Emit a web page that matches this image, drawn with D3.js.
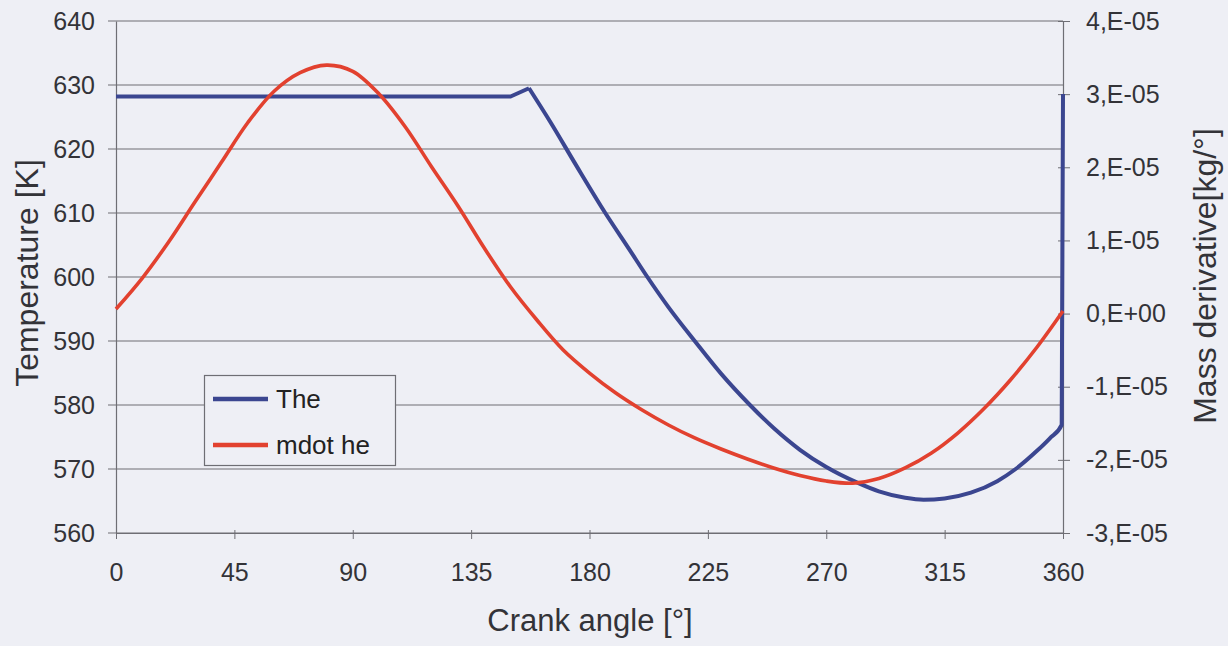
<!DOCTYPE html>
<html><head><meta charset="utf-8">
<script src="https://cdn.jsdelivr.net/npm/d3@7"></script>
<style>
html,body{margin:0;padding:0;background:#eeeff5;}
svg{display:block;font-family:"Liberation Sans",Arial,sans-serif;}
</style></head>
<body><svg id="c" width="1228" height="646"></svg>
<script>
// ---- data ----
const theAngles = [0, 50, 100, 150, 157, 165, 175, 186, 195, 202, 210, 220, 230, 241, 250, 260, 270, 281.6, 290, 300, 307, 315, 325, 335, 342, 350, 355, 359.5, 360];
const theValues = [628.2, 628.2, 628.2, 628.2, 629.5, 624.3, 617.4, 610, 604.4, 600, 595.3, 590, 584.9, 580, 576.4, 573, 570.3, 567.9, 566.5, 565.5, 565.2, 565.4, 566.3, 568.1, 570, 572.8, 574.8, 576.9, 628.6];
const mdotAngles = [0, 10, 20, 30, 40, 50, 60, 70, 80, 90, 100, 110, 120, 130, 140, 150, 160, 170, 180, 190, 200, 210, 220, 230, 240, 250, 260, 270, 280, 290, 300, 310, 320, 330, 340, 350, 360];
const mdotValues = [0.062e-5, 0.486e-5, 0.979e-5, 1.525e-5, 2.064e-5, 2.605e-5, 3.036e-5, 3.293e-5, 3.397e-5, 3.312e-5, 3.002e-5, 2.551e-5, 2.004e-5, 1.471e-5, 0.896e-5, 0.363e-5, -0.088e-5, -0.498e-5, -0.813e-5, -1.086e-5, -1.318e-5, -1.523e-5, -1.701e-5, -1.852e-5, -1.988e-5, -2.111e-5, -2.214e-5, -2.289e-5, -2.319e-5, -2.255e-5, -2.111e-5, -1.906e-5, -1.633e-5, -1.298e-5, -0.908e-5, -0.464e-5, 0.035e-5];
const xTicks = [0, 45, 90, 135, 180, 225, 270, 315, 360];
const leftTicks = [560, 570, 580, 590, 600, 610, 620, 630, 640];
const rightTicks = [-3e-5, -2e-5, -1e-5, 0, 1e-5, 2e-5, 3e-5, 4e-5];
const rightTickLabels = ["-3,E-05", "-2,E-05", "-1,E-05", "0,E+00", "1,E-05", "2,E-05", "3,E-05", "4,E-05"];
const seriesNames = ["The", "mdot he"];

// ---- layout ----
const L = 116, R = 1063, T = 21, B = 533;
const FONT = "Liberation Sans, Arial, sans-serif";
const svg = d3.select("#c");
const x = d3.scaleLinear().domain([0, 360]).range([L, R]);
const yL = d3.scaleLinear().domain([560, 640]).range([B, T]);
const yR = d3.scaleLinear().domain([-3e-5, 4e-5]).range([B, T]);
const gridCol = "#6e6e74", txtCol = "#333338";
const blue = "#3b4690", red = "#e2412f";

// gridlines
svg.append("g").selectAll("line").data(leftTicks).join("line")
  .attr("x1", L - 8).attr("x2", R).attr("y1", d => yL(d)).attr("y2", d => yL(d))
  .attr("stroke", gridCol).attr("stroke-width", 1.2);

// left axis
const gl = svg.append("g").attr("transform", `translate(${L},0)`)
  .call(d3.axisLeft(yL).tickValues(leftTicks).tickSize(0).tickPadding(21).tickFormat(d3.format("d")));
gl.select(".domain").attr("stroke", gridCol).attr("stroke-width", 1.2);
gl.selectAll("text").attr("font-size", 25).attr("fill", txtCol).attr("font-family", FONT);

// right axis
const gr = svg.append("g").attr("transform", `translate(${R},0)`)
  .call(d3.axisRight(yR).tickValues(rightTicks).tickSizeInner(6).tickSizeOuter(0).tickPadding(18)
    .tickFormat((d, i) => rightTickLabels[i]));
gr.select(".domain").attr("stroke", gridCol).attr("stroke-width", 1.2);
gr.selectAll(".tick line").attr("stroke", gridCol).attr("x1", -5).attr("x2", 7);
gr.selectAll("text").attr("x", 23).attr("font-size", 25).attr("fill", txtCol).attr("font-family", FONT);

// bottom axis
const gb = svg.append("g").attr("transform", `translate(0,${B})`)
  .call(d3.axisBottom(x).tickValues(xTicks).tickSizeInner(6).tickSizeOuter(0).tickPadding(24).tickFormat(d3.format("d")));
gb.select(".domain").attr("stroke", gridCol).attr("stroke-width", 1.2);
gb.selectAll(".tick line").attr("stroke", gridCol).attr("y1", -3).attr("y2", 6);
gb.selectAll("text").attr("font-size", 25).attr("fill", txtCol).attr("font-family", FONT);

// series
const theData = theAngles.map((a, i) => [a, theValues[i]]);
const mdotData = mdotAngles.map((a, i) => [a, mdotValues[i]]);
const peakIdx = theValues.indexOf(d3.max(theValues.slice(0, 10)));
svg.append("path").datum(theData.slice(0, peakIdx + 1))
  .attr("d", d3.line().x(d => x(d[0])).y(d => yL(d[1])).curve(d3.curveLinear))
  .attr("fill", "none").attr("stroke", blue).attr("stroke-width", 4).attr("stroke-linejoin", "round");
svg.append("path").datum(theData.slice(peakIdx))
  .attr("d", d3.line().x(d => x(d[0])).y(d => yL(d[1])).curve(d3.curveMonotoneX))
  .attr("fill", "none").attr("stroke", blue).attr("stroke-width", 4).attr("stroke-linejoin", "round");
svg.append("path").datum(mdotData)
  .attr("d", d3.line().x(d => x(d[0])).y(d => yR(d[1])).curve(d3.curveCatmullRom.alpha(0.5)))
  .attr("fill", "none").attr("stroke", red).attr("stroke-width", 3.6);

// legend
const lg = svg.append("g");
lg.append("rect").attr("x", 204.5).attr("y", 375.5).attr("width", 191).attr("height", 90)
  .attr("fill", "#eeeff5").attr("stroke", gridCol).attr("stroke-width", 1.2);
[blue, red].forEach((c, i) => {
  const yy = 399 + i * 46;
  lg.append("line").attr("x1", 213).attr("x2", 268).attr("y1", yy).attr("y2", yy)
    .attr("stroke", c).attr("stroke-width", 4.5);
  lg.append("text").attr("x", 276).attr("y", yy).attr("dy", "0.36em")
    .attr("font-size", 26).attr("fill", "#222").attr("font-family", FONT).text(seriesNames[i]);
});

// axis titles
svg.append("text").attr("x", 590).attr("y", 620).attr("dy", "0.36em").attr("text-anchor", "middle")
  .attr("font-size", 31).attr("fill", txtCol).text("Crank angle [°]");
svg.append("text").attr("transform", "translate(26,273) rotate(-90)").attr("dy", "0.36em").attr("text-anchor", "middle")
  .attr("font-size", 32).attr("fill", txtCol).text("Temperature [K]");
svg.append("text").attr("transform", "translate(1204,276) rotate(-90)").attr("dy", "0.36em").attr("text-anchor", "middle")
  .attr("font-size", 32).attr("fill", txtCol).text("Mass derivative[kg/°]");
</script></body></html>
